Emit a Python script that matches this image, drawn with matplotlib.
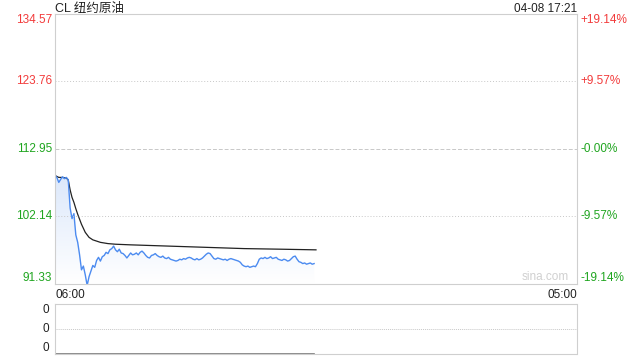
import matplotlib
matplotlib.use("Agg")
import matplotlib.pyplot as plt
from matplotlib.colors import LinearSegmentedColormap
import numpy as np

plt.rcParams['font.family'] = ['Liberation Sans', 'Noto Sans CJK SC', 'DejaVu Sans']

PREV_CLOSE = 112.95
Y_TICKS = [134.57, 123.76, 112.95, 102.14, 91.33]
PCT_LABELS = ["+19.14%", "+9.57%", "-0.00%", "-9.57%", "-19.14%"]
VOL_LABELS = ["0", "0", "0"]
TITLE = "CL 纽约原油"
STAMP = "04-08 17:21"
X_LABELS = ["06:00", "05:00"]
SESSION_MIN = 1380  # 06:00 -> 05:00 next day

# price every 5 minutes from 06:00
price = [108.7, 108.4, 107.6, 108.1, 108.5, 108.2, 108.4, 108.0,
         103.5, 101.8, 102.6, 99.2, 98.0, 96.0, 93.6, 94.2, 92.8, 91.1,
         92.5, 93.4, 94.3, 94.0, 95.1, 95.6, 95.0, 95.7, 95.9, 96.4,
         96.2, 96.8, 97.0, 97.4, 96.8, 96.5, 96.9, 96.3, 96.2, 95.9,
         95.5, 95.9, 96.3, 96.0, 96.1, 96.3, 96.0, 96.4, 96.6, 96.3,
         95.9, 95.6, 95.5, 95.9, 96.0, 96.2, 95.9, 95.7, 95.6, 95.8,
         95.5, 95.4, 95.6, 95.3, 95.2, 95.1, 95.0, 95.1, 95.3, 95.2,
         95.4, 95.3, 95.5, 95.6, 95.5, 95.3, 95.2, 95.4, 95.2, 95.3,
         95.5, 95.8, 96.1, 96.3, 96.2, 95.8, 95.4, 95.3, 95.5, 95.4,
         95.3, 95.2, 95.3, 95.1, 95.3, 95.4, 95.3, 95.2, 95.1, 95.0,
         94.8, 94.4, 94.2, 94.1, 94.2, 94.0, 94.1, 94.2, 94.1, 94.6,
         95.3, 95.5, 95.4, 95.6, 95.4, 95.5, 95.7, 95.4, 95.5, 95.6,
         95.3, 95.2, 95.1, 95.3, 95.2, 95.0, 95.1, 95.4, 95.7, 95.8,
         95.3, 94.9, 94.8, 94.6, 94.7, 94.5, 94.6, 94.7, 94.5, 94.6]
price_min = [5 * i for i in range(len(price))]

# average price line
avg_min = [0, 10, 20, 30, 35, 40, 45, 50, 55, 60, 70, 80, 90, 100, 110,
           120, 140, 160, 200, 250, 300, 400, 500, 600, 690]
avg = [108.7, 108.4, 108.4, 108.3, 108.0, 106.4, 105.2, 104.4, 103.4,
       102.5, 100.9, 99.6, 98.8, 98.4, 98.2, 98.0, 97.8, 97.7, 97.6,
       97.5, 97.4, 97.2, 97.0, 96.9, 96.8]

RED = "#f23b3b"
GREEN = "#1fa51f"
BORDER = "#cfcfcf"

fig = plt.figure(figsize=(6.4, 3.6), dpi=100)
ax = fig.add_axes([55 / 640, 1 - 284 / 360, 522 / 640, 270 / 360])
ax.set_xlim(0, SESSION_MIN)
ax.set_ylim(Y_TICKS[-1], Y_TICKS[0])

# gradient fill under the price line
poly = ax.fill_between(price_min, price, Y_TICKS[-1], color="none", lw=0)
cmap = LinearSegmentedColormap.from_list("fade", ["#ffffff", "#dce8fb"])
grad = np.linspace(0, 1, 100).reshape(-1, 1)
img = ax.imshow(grad, extent=[0, SESSION_MIN, Y_TICKS[-1], max(price)],
                aspect="auto", cmap=cmap, origin="lower", zorder=0)
img.set_clip_path(poly.get_paths()[0], transform=ax.transData)
ax.set_xlim(0, SESSION_MIN)
ax.set_ylim(Y_TICKS[-1], Y_TICKS[0])

ax.plot(avg_min, avg, color="#222222", lw=0.9)
ax.plot(price_min, price, color="#4c8bf0", lw=1.0)

for v in Y_TICKS[1:-1]:
    ls = (0, (4, 2)) if v == PREV_CLOSE else (0, (1, 2))
    ax.axhline(v, color="#c8c8c8", lw=0.7, ls=ls)

ax.set_xticks([])
ax.set_yticks([])
for s in ax.spines.values():
    s.set_color(BORDER)
    s.set_linewidth(0.8)

# left price labels and right percent labels
trans = ax.get_yaxis_transform()
for i, (v, p) in enumerate(zip(Y_TICKS, PCT_LABELS)):
    col = RED if v > PREV_CLOSE else GREEN
    va = "top" if i == 0 else ("bottom" if i == len(Y_TICKS) - 1 else "center")
    ax.text(-0.006, v, f"{v:.2f}", transform=trans, ha="right", va=va,
            color=col, fontsize=8.5)
    ax.text(1.006, v, p, transform=trans, ha="left", va=va,
            color=col, fontsize=8.5)

ax.text(0.985, 0.005, "sina.com", transform=ax.transAxes, ha="right",
        va="bottom", color="#d0d0d0", fontsize=8.5)
fig.text(55 / 640, 1 - 12 / 360, TITLE, ha="left", va="baseline",
         fontsize=9, color="#222222")
fig.text(577 / 640, 1 - 12 / 360, STAMP, ha="right", va="baseline",
         fontsize=8.5, color="#222222")
fig.text(55 / 640, 1 - 298 / 360, X_LABELS[0], ha="left", va="baseline",
         fontsize=8.5, color="#222222")
fig.text(577 / 640, 1 - 298 / 360, X_LABELS[1], ha="right", va="baseline",
         fontsize=8.5, color="#222222")

# volume panel
vax = fig.add_axes([55 / 640, 1 - 354 / 360, 522 / 640, 50 / 360])
vax.set_xlim(0, SESSION_MIN)
vax.set_ylim(0, 1)
vax.set_xticks([])
vax.set_yticks([])
for s in vax.spines.values():
    s.set_color(BORDER)
    s.set_linewidth(0.8)
    s.set_linestyle((0, (1, 1)))
vax.axhline(0.5, color="#c8c8c8", lw=0.7, ls=(0, (1, 1)))
vax.plot([0, price_min[-1]], [0.005, 0.005], color="#777777", lw=1.2)
for y, lab in zip([0.88, 0.5, 0.12], VOL_LABELS):
    vax.text(-0.012, y, lab, transform=vax.transAxes, ha="right",
             va="center", fontsize=8.5, color="#222222")

fig.savefig("out.png", dpi=100)
